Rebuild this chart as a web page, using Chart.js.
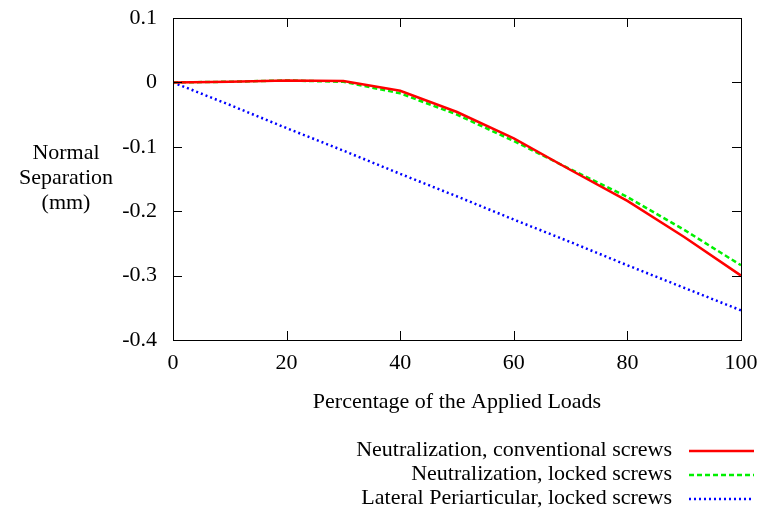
<!DOCTYPE html>
<html>
<head>
<meta charset="utf-8">
<script src="https://cdn.jsdelivr.net/npm/chart.js@4/dist/chart.umd.min.js"></script>
<style>
  html, body { margin: 0; padding: 0; background: #fff; }
  #wrap { width: 763px; height: 517px; }
</style>
</head>
<body>
<div id="wrap"><canvas id="chart" width="763" height="517"></canvas></div>
<script>
// x values (percentage of applied loads)
const loads = [0, 10, 20, 30, 40, 50, 60, 70, 80, 90, 100];

// normal separation (mm)
const neutConventional = [0, 0.001, 0.003, 0.002, -0.013, -0.046, -0.087, -0.136, -0.184, -0.240, -0.300];
const neutLocked = [0, 0.001, 0.003, 0.001, -0.017, -0.050, -0.091, -0.135, -0.178, -0.229, -0.284];
const lateralLocked = [0, -0.035, -0.071, -0.106, -0.142, -0.177, -0.213, -0.248, -0.284, -0.319, -0.354];

const seriesNames = [
  'Neutralization, conventional screws',
  'Neutralization, locked screws',
  'Lateral Periarticular, locked screws'
];
const yTitleLines = ['Normal', 'Separation', '(mm)'];
const xTitle = 'Percentage of the Applied Loads';

const FONT = '"Liberation Serif", "Times New Roman", serif';
const FS = 22;

const toPoints = vals => vals.map((v, i) => ({x: loads[i], y: v}));

// no extra room for half labels, the layout padding alone sets the frame
function noPad(s) {
  s.paddingTop = 0; s.paddingBottom = 0; s.paddingLeft = 0; s.paddingRight = 0;
}

// gnuplot style frame with inward ticks on all four sides
const framePlugin = {
  id: 'frame',
  afterDatasetsDraw(chart) {
    const {ctx, chartArea: a, scales} = chart;
    ctx.save();
    ctx.strokeStyle = '#000';
    ctx.lineWidth = 1;
    ctx.strokeRect(a.left + 0.5, a.top + 0.5, a.right - a.left, a.bottom - a.top);
    const len = 9;
    ctx.beginPath();
    scales.x.ticks.forEach(t => {
      const px = Math.round(scales.x.getPixelForValue(t.value)) + 0.5;
      ctx.moveTo(px, a.bottom); ctx.lineTo(px, a.bottom - len);
      ctx.moveTo(px, a.top); ctx.lineTo(px, a.top + len);
    });
    scales.y.ticks.forEach(t => {
      const py = Math.round(scales.y.getPixelForValue(t.value)) + 0.5;
      ctx.moveTo(a.left, py); ctx.lineTo(a.left + len, py);
      ctx.moveTo(a.right, py); ctx.lineTo(a.right - len, py);
    });
    ctx.stroke();
    ctx.restore();
  }
};

// horizontal y title on the left + legend at bottom right (text, then sample)
const textPlugin = {
  id: 'texts',
  afterDraw(chart) {
    const {ctx} = chart;
    ctx.save();
    ctx.fillStyle = '#000';
    ctx.font = `${FS}px ${FONT}`;
    ctx.textAlign = 'center';
    ctx.textBaseline = 'middle';
    const ys = [153, 178, 203];
    yTitleLines.forEach((s, i) => ctx.fillText(s, 66, ys[i]));

    const rows = [450, 474, 498];
    chart.data.datasets.forEach((ds, i) => {
      ctx.textAlign = 'right';
      ctx.fillStyle = '#000';
      ctx.fillText(ds.label, 672, rows[i]);
      ctx.beginPath();
      ctx.strokeStyle = ds.borderColor;
      ctx.lineWidth = ds.borderWidth;
      ctx.setLineDash(ds.borderDash || []);
      ctx.moveTo(689, rows[i] + 1);
      ctx.lineTo(754, rows[i] + 1);
      ctx.stroke();
    });
    ctx.restore();
  }
};

new Chart(document.getElementById('chart'), {
  type: 'line',
  data: {
    datasets: [
      {label: seriesNames[0], data: toPoints(neutConventional), borderColor: '#ff0000', borderWidth: 2.5, borderDash: []},
      {label: seriesNames[1], data: toPoints(neutLocked), borderColor: '#00f000', borderWidth: 2.5, borderDash: [5, 3]},
      {label: seriesNames[2], data: toPoints(lateralLocked), borderColor: '#0000ff', borderWidth: 2.5, borderDash: [2, 3]}
    ]
  },
  options: {
    responsive: false,
    animation: false,
    events: [],
    layout: {padding: {top: 18, right: 22, left: 0, bottom: 100}},
    elements: {point: {radius: 0}, line: {tension: 0}},
    plugins: {legend: {display: false}, tooltip: {enabled: false}},
    scales: {
      x: {
        type: 'linear', min: 0, max: 100,
        border: {display: false},
        grid: {display: false, drawTicks: false},
        ticks: {stepSize: 20, padding: 10, color: '#000', font: {family: FONT, size: FS}},
        title: {display: true, text: xTitle, color: '#000', font: {family: FONT, size: FS}, padding: {top: 0, bottom: 2}},
        afterFit: s => { s.height = 77; noPad(s); }
      },
      y: {
        min: -0.4, max: 0.1,
        border: {display: false},
        grid: {display: false, drawTicks: false},
        ticks: {
          stepSize: 0.1, padding: 16, color: '#000', font: {family: FONT, size: FS},
          callback: v => String(Math.round(v * 10) / 10)
        },
        afterFit: s => { s.width = 173; noPad(s); }
      }
    }
  },
  plugins: [framePlugin, textPlugin]
});
</script>
</body>
</html>
